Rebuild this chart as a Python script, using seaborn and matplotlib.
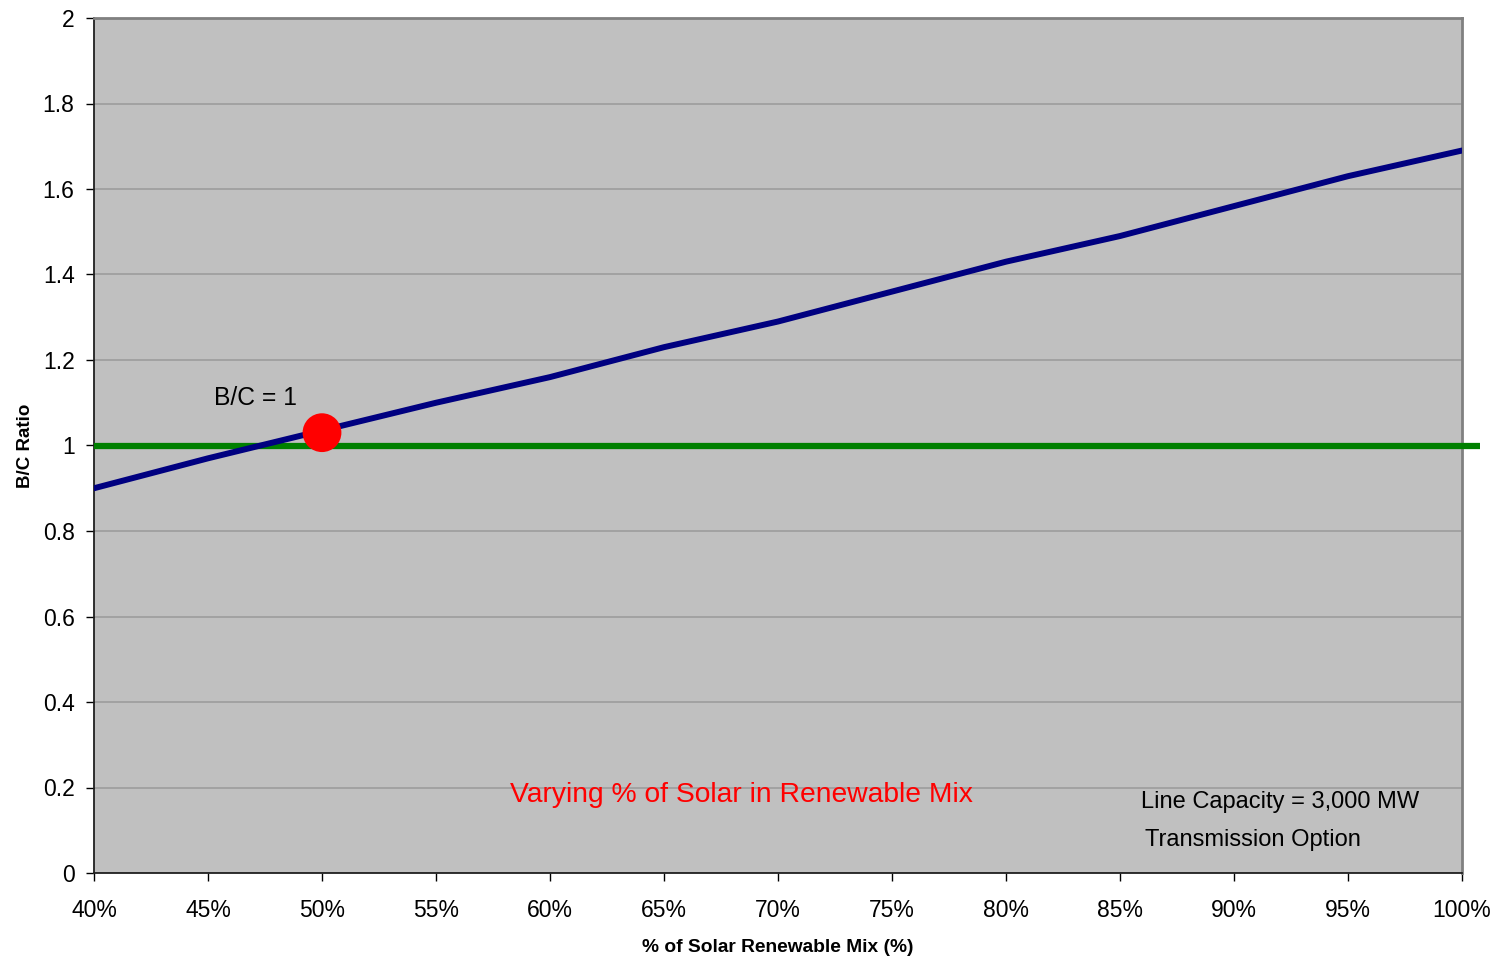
import matplotlib
matplotlib.use("Agg")
import matplotlib.pyplot as plt
import seaborn as sns
import pandas as pd
from matplotlib.ticker import FuncFormatter, MultipleLocator

# Solar share of the renewable mix (%) and the resulting benefit/cost ratio
solar_share = [40, 45, 50, 55, 60, 65, 70, 75, 80, 85, 90, 95, 100]
bc_ratio = [0.90, 0.97, 1.035, 1.10, 1.16, 1.23, 1.29, 1.36, 1.43, 1.49, 1.56, 1.63, 1.69]

breakeven_share = [50]
breakeven_ratio = [1.03]

df = pd.DataFrame({"share": solar_share, "ratio": bc_ratio})
pt = pd.DataFrame({"share": breakeven_share, "ratio": breakeven_ratio})

sns.set_theme(style="white")
plt.rcParams["font.family"] = ["Liberation Sans", "DejaVu Sans"]

fig = plt.figure(figsize=(14.96, 9.57), dpi=100)
ax = fig.add_axes([94 / 1496, 1 - 873 / 957, (1462 - 94) / 1496, (873 - 18) / 957])
ax.set_facecolor("#c0c0c0")

ax.set_xlim(40, 100)
ax.set_ylim(0, 2)
ax.yaxis.set_major_locator(MultipleLocator(0.2))
ax.xaxis.set_major_locator(MultipleLocator(5))
ax.grid(axis="y", color="#9c9c9c", linewidth=1.2)
ax.grid(axis="x", visible=False)
ax.set_axisbelow(True)

# Break-even reference line at B/C = 1
ax.plot([40, 100.8], [1, 1], color="#008000", linewidth=4.5, clip_on=False,
        solid_capstyle="butt", zorder=3)

sns.lineplot(data=df, x="share", y="ratio", ax=ax, color="#000080",
             linewidth=4.3, solid_capstyle="round", zorder=4)
sns.scatterplot(data=pt, x="share", y="ratio", ax=ax, color="#ff0000",
                s=780, edgecolor="none", zorder=5)

ax.yaxis.set_major_formatter(FuncFormatter(lambda v, p: f"{v:g}"))
ax.xaxis.set_major_formatter(FuncFormatter(lambda v, p: f"{v:.0f}%"))
ax.tick_params(axis="both", which="major", direction="out", length=6, width=1,
               color="#000000", labelsize=16.5, labelcolor="#000000",
               bottom=True, left=True)
ax.tick_params(axis="x", pad=13)
ax.tick_params(axis="y", pad=8)

for side in ("left", "bottom"):
    ax.spines[side].set_color("#202020")
    ax.spines[side].set_linewidth(1.3)
for side in ("top", "right"):
    ax.spines[side].set_color("#808080")
    ax.spines[side].set_linewidth(2)

ax.set_xlabel("% of Solar Renewable Mix (%)", fontsize=13.8, fontweight="bold",
              labelpad=12, color="#000000")
ax.set_ylabel("B/C Ratio", fontsize=13.5, fontweight="bold", labelpad=6,
              color="#000000")

ax.text(47.1, 1.11, "B/C = 1", fontsize=17.7, ha="center", va="center", color="#000000")
ax.text(68.4, 0.183, "Varying % of Solar in Renewable Mix", fontsize=20.3,
        ha="center", va="center", color="#ff0000")
ax.text(85.9, 0.166, "Line Capacity = 3,000 MW", fontsize=17, ha="left",
        va="center", color="#000000")
ax.text(86.1, 0.077, "Transmission Option", fontsize=17, ha="left",
        va="center", color="#000000")

fig.savefig("out.png", dpi=100, facecolor="white")
